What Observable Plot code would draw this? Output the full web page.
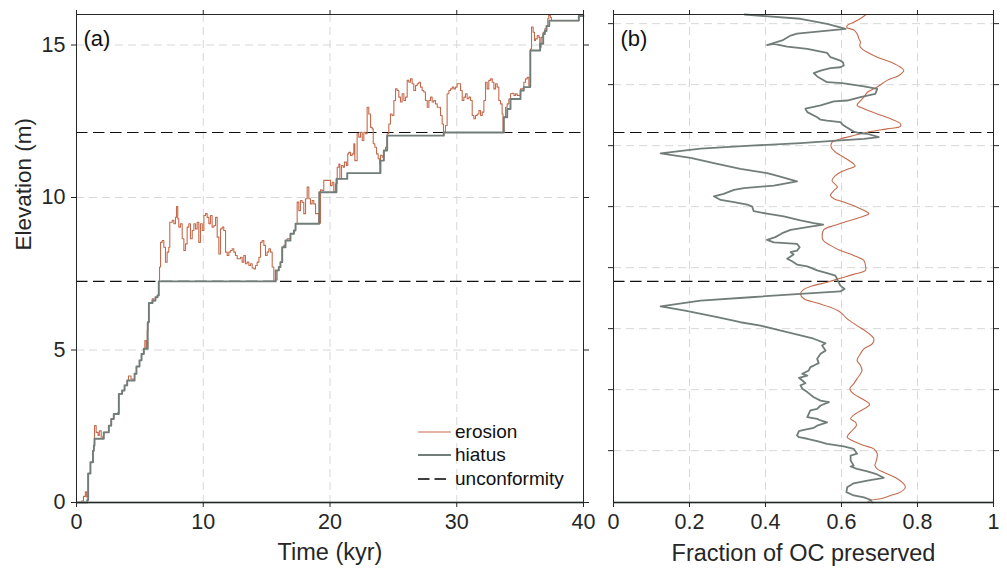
<!DOCTYPE html>
<html>
<head>
<meta charset="utf-8">
<script src="https://cdn.jsdelivr.net/npm/d3@7"></script>
<script src="https://cdn.jsdelivr.net/npm/@observablehq/plot@0.6"></script>
<style>
  html, body { margin: 0; padding: 0; background: #fff; }
  #wrap { position: relative; width: 1007px; height: 568px; display: flex; font-family: "Liberation Sans", Arial, Helvetica, sans-serif; }
  #legend { position: absolute; left: 418px; top: 420px; font-size: 19px; color: #111; }
  .row { display: flex; align-items: center; height: 23.5px; }
  .row svg { width: 33px; height: 6px; margin-right: 4px; overflow: visible; }
</style>
</head>
<body>
<div id="wrap"></div>
<script>
// ---------- data ----------
const erosionColor = "#c46b4d";
const hiatusColor = "#717d78";

// panel (a): elevation (m) vs time (kyr)
const erosionPts = [
  [0,0],[0.4,0.05],[0.55,0.2],[0.7,0.35],[0.8,0.18],[0.92,0.95],[1.1,1.32],[1.3,1.7],[1.37,1.87],[1.42,2.52],
  [1.55,2.3],[1.7,2.2],[1.8,2.35],[1.95,2.15],[2.1,2.1],[2.15,2.3],[2.55,2.52],[2.74,2.74],[2.94,2.9],[3.26,2.96],
  [3.34,3.56],[3.6,3.67],[3.79,3.84],[4.0,4.0],[4.1,4.15],[4.3,4.05],[4.47,4.0],[4.58,4.22],[4.73,4.46],[4.97,4.66],
  [5.13,4.87],[5.31,5.04],[5.39,5.31],[5.5,5.05],[5.58,5.64],[5.63,5.91],[5.71,6.54],[5.97,6.68],[6.1,6.62],[6.23,6.73],
  [6.37,6.79],[6.49,7.25],[6.55,7.72],[6.63,8.53],[6.76,8.59],[6.89,8.37],[7.02,7.88],[7.15,8.21],[7.28,8.37],[7.36,9.19],
  [7.55,9.25],[7.68,9.14],[7.81,9.35],[7.89,9.7],[7.99,9.3],[8.07,9.03],[8.2,9.14],[8.34,8.65],[8.47,8.26],[8.6,8.48],
  [8.73,9.03],[8.86,9.14],[8.99,8.65],[9.13,8.92],[9.26,9.14],[9.39,8.97],[9.52,9.19],[9.65,8.53],[9.78,9.14],[9.92,8.92],
  [10.05,9.41],[10.18,9.47],[10.31,9.35],[10.44,9.14],[10.57,9.41],[10.7,9.03],[10.84,9.08],[10.97,9.35],[11.1,8.7],[11.23,8.15],
  [11.36,8.97],[11.49,9.03],[11.62,8.92],[11.76,8.21],[11.89,8.1],[12.02,8.21],[12.15,8.26],[12.28,8.32],[12.41,8.21],[12.54,8.1],
  [12.68,7.99],[12.94,8.04],[13.07,7.88],[13.2,8.1],[13.33,7.83],[13.46,7.88],[13.6,7.77],[13.73,7.83],[13.86,7.69],[13.99,7.66],
  [14.12,7.77],[14.25,7.88],[14.39,8.04],[14.52,8.53],[14.65,8.59],[14.78,8.43],[14.91,8.1],[15.04,8.21],[15.17,8.32],[15.3,8.21],
  [15.44,7.72],[15.57,7.25],[15.7,7.3],[15.83,7.61],[15.96,7.72],[16.09,7.88],[16.23,8.37],[16.36,8.43],[16.49,8.59],[16.62,8.65],
  [16.88,8.81],[17.15,8.92],[17.28,9.14],[17.41,9.85],[17.54,9.57],[17.67,9.9],[17.8,9.84],[17.93,9.47],[18.07,9.96],[18.2,10.34],
  [18.33,9.96],[18.46,9.79],[18.59,9.9],[18.72,9.79],[18.86,9.47],[18.99,9.47],[19.12,9.16],[19.25,10.25],[19.38,10.23],[19.51,10.56],
  [20.04,10.39],[20.17,10.5],[20.3,10.18],[20.43,10.45],[20.57,10.99],[20.7,11.1],[20.78,10.62],[20.91,11.05],[21.04,10.99],[21.14,11.16],
  [21.3,11.05],[21.4,11.43],[21.48,11.48],[21.62,11.38],[21.75,11.43],[21.88,11.76],[21.96,11.21],[22.14,12.09],[22.27,11.98],[22.41,12.14],
  [22.54,11.87],[22.67,12.14],[22.8,12.09],[22.93,12.96],[23.06,12.74],[23.2,12.3],[23.33,12.25],[23.41,11.76],[23.54,11.65],[23.67,11.43],
  [23.8,11.27],[23.91,11.1],[23.94,10.81],[23.98,11.38],[24.12,11.32],[24.25,11.54],[24.38,11.65],[24.51,12.09],[24.64,12.41],[24.77,12.74],
  [24.9,12.69],[25.04,13.18],[25.17,13.56],[25.3,13.51],[25.43,13.29],[25.56,13.13],[25.69,13.4],[25.83,13.18],[25.96,13.29],[26.09,13.84],
  [26.22,13.78],[26.35,13.89],[26.48,13.73],[26.61,13.51],[26.75,13.67],[26.88,13.73],[27.01,13.78],[27.14,13.62],[27.27,13.51],[27.4,13.46],
  [27.53,13.18],[27.67,12.96],[27.8,13.18],[27.93,13.29],[28.06,13.13],[28.19,13.18],[28.32,13.07],[28.46,12.96],[28.59,12.96],[28.72,12.69],
  [28.85,12.41],[28.95,12.03],[28.98,12.14],[29.11,12.36],[29.24,13.4],[29.38,13.51],[29.51,13.56],[29.64,13.62],[29.77,13.56],[29.9,13.62],
  [30.03,13.73],[30.17,13.73],[30.3,13.51],[30.43,13.18],[30.56,13.29],[30.69,13.4],[30.82,13.24],[30.96,13.29],[31.09,13.18],[31.22,12.69],
  [31.35,12.58],[31.48,12.69],[31.61,12.74],[31.75,12.85],[31.88,12.69],[32.01,12.8],[32.14,13.18],[32.27,13.78],[32.4,13.56],[32.53,13.84],
  [32.67,13.89],[32.8,13.78],[32.93,13.56],[33.06,13.73],[33.19,13.62],[33.32,13.18],[33.45,13.07],[33.58,12.74],[33.65,12.13],[33.71,12.63],
  [33.85,12.96],[33.98,13.07],[34.11,13.23],[34.24,13.4],[34.37,13.42],[34.51,13.35],[34.64,13.4],[34.77,13.35],[34.9,13.35],[35.03,13.56],
  [35.16,13.56],[35.29,13.78],[35.42,13.89],[35.56,13.94],[35.69,13.67],[35.82,14.87],[35.9,15.59],[36.03,15.42],[36.13,15.15],[36.21,15.2],
  [36.35,15.31],[36.48,15.25],[36.55,14.93],[36.66,15.25],[36.82,15.42],[36.95,15.53],[37.08,15.64],[37.18,15.86],[37.26,15.97],[37.39,15.9],
  [37.47,15.8],[39.63,15.97],[40,15.97]
];
const hiatusPts = [
  [0,0],[0.85,0.08],[0.92,0.95],[1.1,1.32],[1.3,1.7],[1.37,1.87],[1.42,2.09],[2.15,2.3],[2.55,2.52],[2.74,2.74],
  [2.94,2.9],[3.34,3.56],[3.6,3.67],[3.79,3.84],[4.0,4.0],[4.58,4.22],[4.73,4.46],[4.97,4.66],[5.13,4.87],[5.31,5.04],
  [5.62,5.91],[5.71,6.54],[6.0,6.62],[6.23,6.73],[6.4,6.79],[6.49,7.25],[15.72,7.61],[15.96,7.72],[16.09,7.88],[16.23,8.37],
  [16.49,8.59],[16.88,8.81],[17.15,8.92],[17.28,9.14],[19.15,10.17],[20.51,10.61],[21.36,10.8],[23.98,11.21],[24.25,11.54],[24.51,12.03],
  [28.98,12.13],[33.71,12.63],[33.98,12.9],[34.24,13.23],[35.03,13.51],[35.29,13.62],[35.8,14.82],[36.58,15.04],[36.82,15.36],[36.95,15.46],
  [37.08,15.62],[37.3,15.8],[39.63,15.95],[40,15.95]
];
const unconformities = [7.25, 12.13];

// panel (b): fraction of OC preserved vs elevation
const fracErosion = [
  [0.665,16.0],[0.641,15.8],[0.615,15.64],[0.615,15.56],[0.632,15.5],[0.641,15.37],[0.646,15.2],[0.65,15.09],[0.648,14.98],[0.654,14.87],
  [0.668,14.76],[0.694,14.6],[0.729,14.44],[0.755,14.27],[0.764,14.16],[0.751,14.0],[0.72,13.84],[0.694,13.62],[0.668,13.45],[0.659,13.29],
  [0.646,13.12],[0.641,13.02],[0.659,12.91],[0.694,12.74],[0.729,12.58],[0.755,12.42],[0.755,12.33],[0.72,12.25],[0.668,12.14],[0.632,12.03],
  [0.597,11.92],[0.575,11.81],[0.573,11.65],[0.584,11.49],[0.606,11.32],[0.632,11.1],[0.636,11.03],[0.619,10.94],[0.597,10.83],[0.584,10.72],
  [0.575,10.56],[0.589,10.34],[0.58,10.23],[0.571,10.07],[0.58,9.96],[0.606,9.85],[0.641,9.68],[0.668,9.52],[0.672,9.47],[0.65,9.35],
  [0.615,9.22],[0.58,9.08],[0.553,8.94],[0.549,8.75],[0.552,8.59],[0.571,8.43],[0.597,8.26],[0.632,8.1],[0.659,7.93],[0.663,7.77],
  [0.663,7.61],[0.632,7.48],[0.597,7.35],[0.562,7.22],[0.518,7.08],[0.497,6.95],[0.492,6.84],[0.501,6.68],[0.536,6.54],[0.571,6.4],
  [0.597,6.24],[0.615,6.02],[0.641,5.8],[0.668,5.58],[0.685,5.37],[0.681,5.2],[0.659,5.04],[0.65,4.88],[0.641,4.66],[0.65,4.49],
  [0.654,4.33],[0.65,4.22],[0.641,4.06],[0.632,3.89],[0.622,3.73],[0.632,3.56],[0.654,3.4],[0.674,3.21],[0.659,3.07],[0.637,2.91],
  [0.624,2.74],[0.637,2.63],[0.639,2.52],[0.628,2.36],[0.615,2.14],[0.632,2.01],[0.659,1.87],[0.685,1.76],[0.694,1.6],[0.692,1.38],
  [0.688,1.21],[0.694,1.1],[0.72,0.94],[0.747,0.78],[0.764,0.61],[0.768,0.5],[0.755,0.34],[0.729,0.23],[0.703,0.12],[0.676,0.07],
  [0.668,0.0]
];
const fracHiatus = [
  [0.345,16.0],[0.492,15.86],[0.562,15.69],[0.611,15.53],[0.483,15.37],[0.466,15.31],[0.444,15.15],[0.404,15.0],[0.422,15.04],[0.457,14.95],
  [0.51,14.87],[0.562,14.74],[0.571,14.6],[0.597,14.49],[0.604,14.43],[0.606,14.33],[0.597,14.27],[0.571,14.24],[0.545,14.16],[0.527,14.08],
  [0.536,13.97],[0.562,13.78],[0.602,13.75],[0.659,13.64],[0.694,13.56],[0.689,13.4],[0.668,13.34],[0.65,13.29],[0.615,13.18],[0.58,13.15],
  [0.545,13.02],[0.505,12.91],[0.51,12.8],[0.536,12.63],[0.545,12.55],[0.562,12.52],[0.597,12.47],[0.606,12.36],[0.632,12.16],[0.646,12.11],
  [0.668,12.09],[0.698,11.98],[0.659,11.92],[0.597,11.87],[0.492,11.78],[0.361,11.7],[0.229,11.6],[0.124,11.45],[0.203,11.3],[0.273,11.1],
  [0.334,10.94],[0.404,10.8],[0.422,10.74],[0.483,10.53],[0.422,10.39],[0.343,10.31],[0.317,10.25],[0.29,10.12],[0.264,10.04],[0.282,9.92],
  [0.317,9.85],[0.352,9.77],[0.365,9.7],[0.369,9.55],[0.404,9.47],[0.448,9.38],[0.492,9.25],[0.527,9.16],[0.552,9.11],[0.51,9.03],
  [0.466,8.94],[0.444,8.83],[0.426,8.7],[0.404,8.61],[0.422,8.53],[0.483,8.48],[0.49,8.37],[0.483,8.26],[0.466,8.21],[0.474,8.13],
  [0.457,7.99],[0.47,7.91],[0.483,7.8],[0.51,7.74],[0.536,7.61],[0.562,7.52],[0.584,7.44],[0.59,7.28],[0.597,7.11],[0.608,7.0],
  [0.597,6.92],[0.492,6.84],[0.361,6.73],[0.229,6.62],[0.124,6.43],[0.185,6.3],[0.273,6.08],[0.334,5.91],[0.387,5.8],[0.422,5.69],
  [0.492,5.48],[0.527,5.37],[0.558,5.22],[0.549,5.15],[0.558,4.98],[0.545,4.88],[0.536,4.71],[0.54,4.57],[0.527,4.49],[0.518,4.44],
  [0.514,4.33],[0.497,4.22],[0.51,4.16],[0.488,4.09],[0.497,4.0],[0.505,3.91],[0.492,3.84],[0.497,3.73],[0.51,3.62],[0.527,3.45],
  [0.545,3.34],[0.567,3.29],[0.545,3.18],[0.536,3.07],[0.518,3.02],[0.51,2.8],[0.536,2.74],[0.545,2.69],[0.562,2.63],[0.536,2.52],
  [0.527,2.45],[0.501,2.38],[0.488,2.34],[0.483,2.2],[0.488,2.14],[0.51,2.09],[0.536,2.01],[0.562,1.92],[0.606,1.84],[0.632,1.76],
  [0.641,1.6],[0.624,1.54],[0.624,1.38],[0.632,1.21],[0.624,1.18],[0.641,1.1],[0.668,1.02],[0.694,0.92],[0.711,0.81],[0.668,0.72],
  [0.632,0.63],[0.615,0.5],[0.613,0.34],[0.632,0.23],[0.659,0.17],[0.676,0.09],[0.681,0.0]
];

const timeTicks = [0, 10, 20, 30, 40];
const elevTicks = [0, 5, 10, 15];
const fracTicks = [0, 0.2, 0.4, 0.6, 0.8, 1];
const fracTickLabels = ["0", "0.2", "0.4", "0.6", "0.8", "1"];
const depthTicks = [15.7, 13.7, 11.7, 9.7, 7.7, 5.7, 3.7, 1.7];

// ---------- drawing ----------
const FONT = '"Liberation Sans", Arial, Helvetica, sans-serif';
const INK = "#262626";
const GRID = "#d8d8d8";
const svgStyle = {background: "white", fontFamily: FONT, fontSize: "21.5px", color: INK, overflow: "visible"};

const left = Plot.plot({
  width: 598, height: 568,
  marginLeft: 76, marginRight: 15, marginTop: 14, marginBottom: 66,
  style: svgStyle,
  x: {domain: [0, 40], axis: null},
  y: {domain: [0, 16], axis: null},
  marks: [
    Plot.gridX(timeTicks.slice(1, -1), {stroke: GRID, strokeOpacity: 1, strokeDasharray: "8,5"}),
    Plot.gridY(elevTicks.slice(1), {stroke: GRID, strokeOpacity: 1, strokeDasharray: "8,5"}),
    Plot.ruleY(unconformities, {stroke: "#111", strokeWidth: 1.1, strokeDasharray: "11.5,5.5"}),
    Plot.line(erosionPts, {x: d => d[0], y: d => d[1], stroke: erosionColor, strokeWidth: 1.1, curve: "step-after"}),
    Plot.line(hiatusPts, {x: d => d[0], y: d => d[1], stroke: hiatusColor, strokeWidth: 1.9, curve: "step-after"}),
    Plot.ruleY([0], {stroke: hiatusColor, strokeWidth: 2}),
    Plot.frame({stroke: INK, strokeWidth: 1}),
    Plot.axisX({anchor: "bottom", ticks: timeTicks, tickSize: 5, tickPadding: 6, label: null, tickFormat: d => String(d)}),
    Plot.axisX({anchor: "top", ticks: timeTicks, tickSize: 5, label: null, tickFormat: () => ""}),
    Plot.axisY({anchor: "left", ticks: elevTicks, tickSize: 5, tickPadding: 6, label: null, tickFormat: d => String(d)}),
    Plot.axisY({anchor: "right", ticks: elevTicks, tickSize: 5, label: null, tickFormat: () => ""}),
    Plot.text(["(a)"], {frameAnchor: "top-left", text: d => d, dx: 7, dy: 24, textAnchor: "start", lineAnchor: "middle", fontSize: 22, fill: "#111"}),
    Plot.text(["Time (kyr)"], {frameAnchor: "bottom", text: d => d, dy: 50, lineAnchor: "middle", fontSize: 23.5, fill: INK}),
    Plot.text(["Elevation (m)"], {frameAnchor: "left", text: d => d, dx: -53, dy: -8, rotate: -90, lineAnchor: "middle", fontSize: 22.5, fill: INK})
  ]
});

const right = Plot.plot({
  width: 409, height: 568,
  marginLeft: 15, marginRight: 14, marginTop: 14, marginBottom: 66,
  style: svgStyle,
  x: {domain: [0, 1], axis: null},
  y: {domain: [0, 16], axis: null},
  marks: [
    Plot.gridX(fracTicks.slice(1, -1), {stroke: GRID, strokeOpacity: 1, strokeDasharray: "8,5"}),
    Plot.gridY(depthTicks, {stroke: GRID, strokeOpacity: 1, strokeDasharray: "8,5"}),
    Plot.ruleY(unconformities, {stroke: "#111", strokeWidth: 1.1, strokeDasharray: "11.5,5.5"}),
    Plot.line(fracErosion, {x: d => d[0], y: d => d[1], stroke: erosionColor, strokeWidth: 1.1, curve: "catmull-rom"}),
    Plot.line(fracHiatus, {x: d => d[0], y: d => d[1], stroke: hiatusColor, strokeWidth: 1.8}),
    Plot.ruleY([0], {stroke: hiatusColor, strokeWidth: 2}),
    Plot.frame({stroke: INK, strokeWidth: 1}),
    Plot.axisX({anchor: "bottom", ticks: fracTicks, tickSize: 5, tickPadding: 6, label: null, tickFormat: d => fracTickLabels[fracTicks.indexOf(d)]}),
    Plot.axisX({anchor: "top", ticks: fracTicks, tickSize: 5, label: null, tickFormat: () => ""}),
    Plot.axisY({anchor: "left", ticks: depthTicks, tickSize: 5, label: null, tickFormat: () => ""}),
    Plot.axisY({anchor: "right", ticks: depthTicks, tickSize: 5, label: null, tickFormat: () => ""}),
    Plot.text(["(b)"], {frameAnchor: "top-left", text: d => d, dx: 7, dy: 24, textAnchor: "start", lineAnchor: "middle", fontSize: 22, fill: "#111"}),
    Plot.text(["Fraction of OC preserved"], {frameAnchor: "bottom", text: d => d, dy: 51, lineAnchor: "middle", fontSize: 23.5, fill: INK})
  ]
});

const wrap = document.getElementById("wrap");
wrap.appendChild(left);
wrap.appendChild(right);

// legend (inside panel a, lower right)
const legendItems = [
  {label: "erosion", color: erosionColor, width: 1.2, dash: null},
  {label: "hiatus", color: hiatusColor, width: 2, dash: null},
  {label: "unconformity", color: "#000", width: 1.4, dash: "11.5,5"}
];
const legend = document.createElement("div");
legend.id = "legend";
for (const item of legendItems) {
  const row = document.createElement("div");
  row.className = "row";
  row.innerHTML = `<svg width="33" height="6"><line x1="0" x2="33" y1="3" y2="3" stroke="${item.color}" stroke-width="${item.width}" ${item.dash ? `stroke-dasharray="${item.dash}"` : ""}/></svg><span>${item.label}</span>`;
  legend.appendChild(row);
}
wrap.appendChild(legend);
</script>
</body>
</html>
